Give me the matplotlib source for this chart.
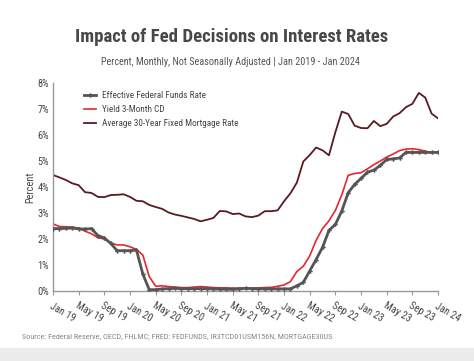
import numpy as np
import matplotlib
matplotlib.use("Agg")
import matplotlib.pyplot as plt
from matplotlib import font_manager
from matplotlib.patches import Rectangle

# pick a narrow font if one is around
names = set(f.name for f in font_manager.fontManager.ttflist)
narrow = [n for n in ['Noto Sans ExtraCondensed', 'Noto Sans Condensed', 'Roboto Condensed',
                      'DejaVu Sans Condensed', 'Liberation Sans Narrow', 'Open Sans Condensed']
          if n in names]
cond = [f.name for f in font_manager.fontManager.ttflist if f.stretch in ('condensed', 'semi-condensed', 'extra-condensed')]
fam = narrow[0] if narrow else (cond[0] if cond else 'Roboto')
plt.rcParams['font.family'] = [fam, 'DejaVu Sans']

# monthly, Jan 2019 .. Jan 2024
fedfunds = [2.40, 2.40, 2.41, 2.42, 2.39, 2.38, 2.40, 2.13, 2.04, 1.83, 1.55, 1.55,
            1.55, 1.58, 0.65, 0.05, 0.05, 0.08, 0.09, 0.10, 0.09, 0.09, 0.09, 0.09,
            0.09, 0.08, 0.07, 0.07, 0.06, 0.08, 0.10, 0.09, 0.08, 0.08, 0.08, 0.08,
            0.08, 0.08, 0.20, 0.33, 0.77, 1.21, 1.68, 2.33, 2.56, 3.08, 3.78, 4.10,
            4.33, 4.57, 4.65, 4.83, 5.06, 5.08, 5.12, 5.33, 5.33, 5.33, 5.33, 5.33,
            5.33]
cd3m = [2.58, 2.48, 2.47, 2.46, 2.42, 2.30, 2.20, 2.05, 2.00, 1.85, 1.77, 1.77,
        1.70, 1.60, 1.38, 0.55, 0.18, 0.20, 0.17, 0.15, 0.13, 0.13, 0.15, 0.17,
        0.15, 0.13, 0.12, 0.12, 0.11, 0.11, 0.11, 0.11, 0.12, 0.13, 0.14, 0.18,
        0.23, 0.36, 0.75, 0.95, 1.35, 1.95, 2.40, 2.70, 3.10, 3.70, 4.45, 4.52,
        4.55, 4.70, 4.86, 5.00, 5.15, 5.27, 5.40, 5.46, 5.47, 5.44, 5.38, 5.32]
mortgage = [4.46, 4.37, 4.27, 4.14, 4.07, 3.80, 3.77, 3.62, 3.61, 3.69, 3.70, 3.72,
            3.62, 3.47, 3.45, 3.31, 3.23, 3.16, 3.02, 2.94, 2.89, 2.83, 2.77, 2.68,
            2.74, 2.81, 3.08, 3.06, 2.96, 2.98, 2.87, 2.84, 2.90, 3.07, 3.07, 3.10,
            3.45, 3.76, 4.17, 4.98, 5.23, 5.52, 5.41, 5.22, 6.11, 6.90, 6.81, 6.36,
            6.27, 6.26, 6.54, 6.34, 6.43, 6.71, 6.84, 7.07, 7.20, 7.62, 7.44, 6.82,
            6.64]
xlabels = ["Jan 19", "May 19", "Sep 19", "Jan 20", "May 20", "Sep 20", "Jan 21",
           "May 21", "Sep 21", "Jan 22", "May 22", "Sep 22", "Jan 23", "May 23",
           "Sep 23", "Jan 24"]

fig = plt.figure(figsize=(4.74, 3.61), dpi=100)
ax = fig.add_axes([0.1118, 0.194, 0.8124, 0.576])

ax.plot(np.arange(len(fedfunds)), fedfunds, color='#555555', lw=2.0,
        marker='P', ms=3.2, mew=0, label='Effective Federal Funds Rate', zorder=3)
ax.plot(np.arange(len(cd3m)), cd3m, color='#e8262c', lw=1.2,
        label='Yield 3-Month CD', zorder=2)
ax.plot(np.arange(len(mortgage)), mortgage, color='#5a1a22', lw=1.3,
        label='Average 30-Year Fixed Mortgage Rate', zorder=2)

ax.set_xlim(0, 60)
ax.set_ylim(0, 8)
ax.set_xticks(np.arange(0, 61, 4))
ax.set_xticklabels(xlabels, rotation=-30, ha='left', rotation_mode='anchor',
                   fontsize=7.5, color='#444444')
ax.set_yticks(np.arange(0, 9))
ax.set_yticklabels([f"{i}%" for i in range(9)], fontsize=7.5, color='#444444')
ax.tick_params(axis='x', length=3, color='#999999', pad=4)
ax.tick_params(axis='y', length=0, pad=3)
for s in ['top', 'right']:
    ax.spines[s].set_visible(False)
for s in ['left', 'bottom']:
    ax.spines[s].set_color('#999999')
    ax.spines[s].set_linewidth(1.0)
ax.set_ylabel('Percent', fontsize=7.5, color='#444444', labelpad=1)

leg = ax.legend(loc='upper left', bbox_to_anchor=(0.06, 1.0), frameon=False,
                fontsize=6.6, handlelength=1.3, labelspacing=0.55, handletextpad=0.6)
for t in leg.get_texts():
    t.set_color('#444444')

fig.text(0.488, 0.897, 'Impact of Fed Decisions on Interest Rates', ha='center',
         va='center', fontsize=13.5, fontweight='bold', color='#484848')
fig.text(0.487, 0.828, 'Percent, Monthly, Not Seasonally Adjusted | Jan 2019 - Jan 2024',
         ha='center', va='center', fontsize=7.3, color='#555555')
fig.text(0.046, 0.066, 'Source: Federal Reserve, OECD, FHLMC; FRED: FEDFUNDS, IR3TCD01USM156N, MORTGAGE30US',
         ha='left', va='center', fontsize=5.9, color='#888888')
fig.patches.append(Rectangle((0, 0), 1, 0.035, transform=fig.transFigure,
                             color='#ececec', zorder=0))

fig.savefig('out.png', dpi=100)
